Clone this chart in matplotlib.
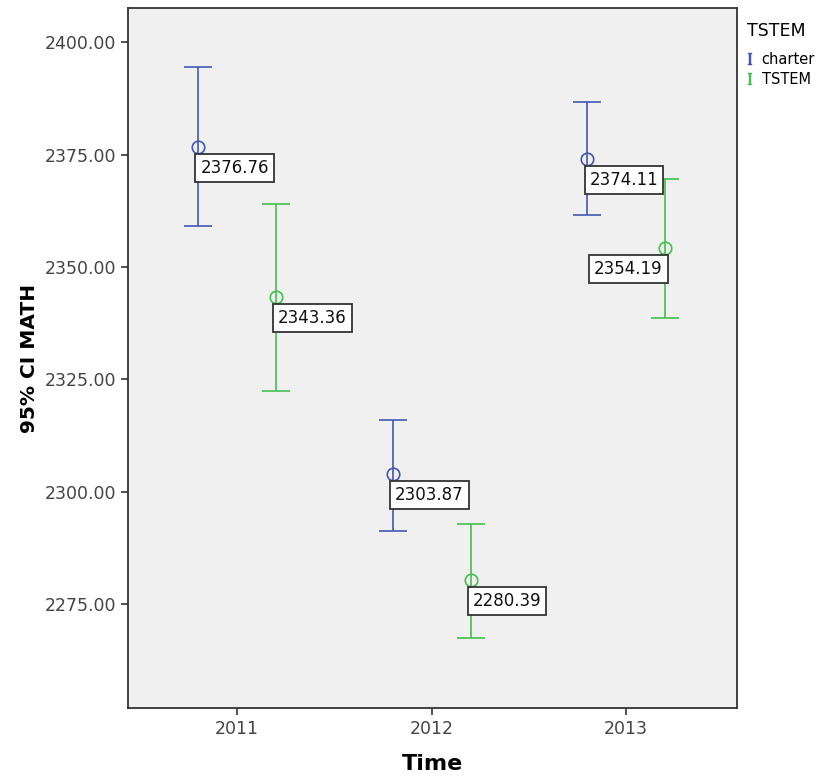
import numpy as np
import matplotlib
matplotlib.use("Agg")
import matplotlib.pyplot as plt
from matplotlib.lines import Line2D

plt.rcParams["mathtext.fontset"] = "dejavuserif"

# values
years = ["2011", "2012", "2013"]
groups = ["charter", "TSTEM"]
colors = ["#4258b0", "#45bf4f"]
means = [[2376.76, 2303.87, 2374.11],
         [2343.36, 2280.39, 2354.19]]
upper = [[2394.4, 2315.9, 2386.6],
         [2364.0, 2292.9, 2369.5]]
lower = [[2359.1, 2291.3, 2361.5],
         [2322.5, 2267.4, 2338.7]]
# label side (left/right of the point), as SPSS placed them
label_side = [["left", "left", "left"],
              ["left", "left", "right"]]

fig = plt.figure(figsize=(8.2, 7.78), dpi=100)
ax = fig.add_axes([0.156, 0.09, 0.743, 0.8997])
ax.set_facecolor("#f0f0f0")

x = np.arange(len(years))
offs = [-0.2, 0.2]
for g in range(2):
    xs = x + offs[g]
    m = np.array(means[g])
    err = [m - np.array(lower[g]), np.array(upper[g]) - m]
    ax.errorbar(xs, m, yerr=err, fmt="o", color=colors[g], mfc="none",
                ms=9, mew=1.2, elinewidth=1.2, capsize=10, capthick=1.2)
    for i in range(len(years)):
        side = label_side[g][i]
        dx = 2.3 if side == "left" else -2.3
        ax.annotate("%.2f" % m[i], (xs[i], m[i]), xytext=(dx, -12),
                    textcoords="offset pixels", ha=side, va="top",
                    fontsize=12, color="#111111",
                    bbox=dict(boxstyle="square,pad=0.3", fc="white",
                              ec="#333333", lw=1.3))

ax.set_xlim(-0.56, 2.57)
ax.set_ylim(2251.9, 2407.6)
ax.set_xticks(x)
ax.set_xticklabels(years)
ax.set_yticks([2275, 2300, 2325, 2350, 2375, 2400])
ax.set_yticklabels(["%.2f" % v for v in [2275, 2300, 2325, 2350, 2375, 2400]])
ax.tick_params(labelsize=12.5, labelcolor="#444444", colors="#333333",
               length=5, width=1.2)
for s in ax.spines.values():
    s.set_linewidth(1.3)
    s.set_color("#333333")

ax.set_xlabel("Time", fontsize=16, fontweight="bold", labelpad=12)
ax.set_ylabel("95% CI MATH", fontsize=14.5, fontweight="bold", labelpad=4)

handles = [Line2D([], [], ls="none", marker=r"$\mathrm{I}$", ms=9,
                  mew=0.3, color=c) for c in colors]
leg = fig.legend(handles, groups, loc="upper left",
                 bbox_to_anchor=(0.911, 0.972), frameon=False,
                 title="TSTEM", fontsize=10.5, title_fontsize=12.5,
                 handlelength=0.4, handletextpad=0.6, labelspacing=0.3,
                 borderaxespad=0, borderpad=0)
leg._legend_box.align = "left"
leg._legend_box.sep = 9

fig.savefig("out.png", dpi=100)
